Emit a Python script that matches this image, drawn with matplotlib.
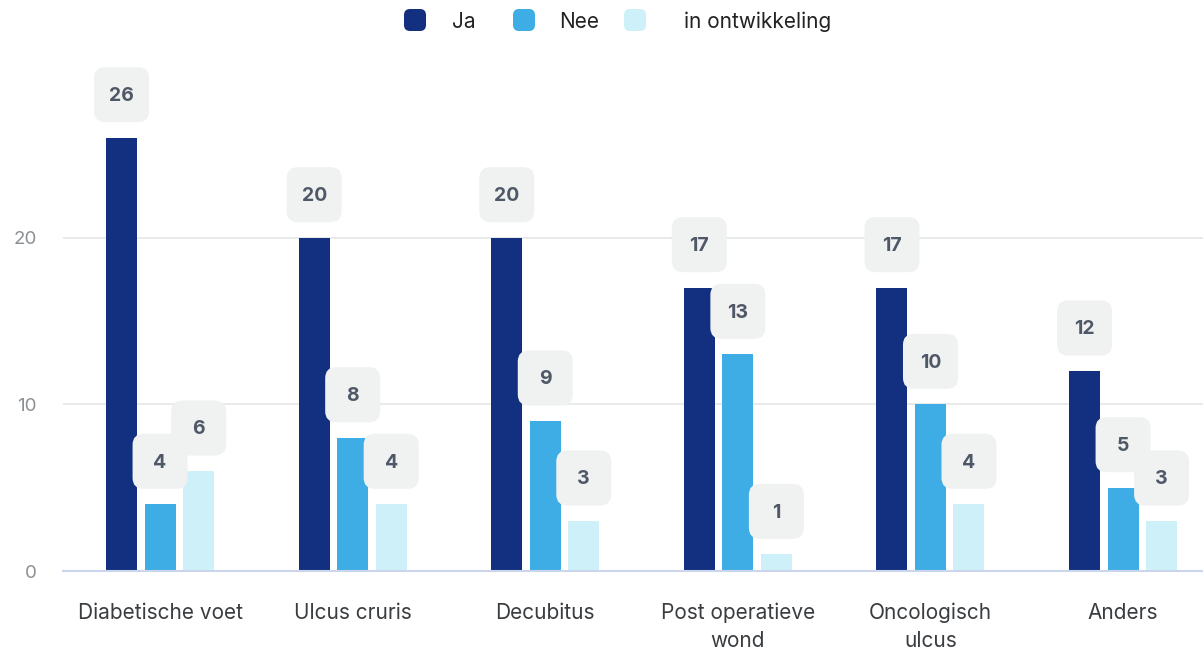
import matplotlib.pyplot as plt
import matplotlib.transforms as mtransforms
from matplotlib.patches import FancyBboxPatch
import numpy as np

plt.rcParams['font.family'] = ['Inter', 'DejaVu Sans']

# data
categories = ["Diabetische voet", "Ulcus cruris", "Decubitus",
              "Post operatieve\nwond", "Oncologisch\nulcus", "Anders"]
series_names = ["Ja", "Nee", "in ontwikkeling"]
ja = [26, 20, 20, 17, 17, 12]
nee = [4, 8, 9, 13, 10, 5]
ontw = [6, 4, 3, 1, 4, 3]
colors = ["#12307f", "#3eade5", "#cef1f9"]

fig = plt.figure(figsize=(12.03, 6.51), dpi=100)
ax = fig.add_axes([63 / 1203, 80 / 651, 1 - 63 / 1203, 500 / 651])

x = np.arange(len(categories))
width = 0.161
offsets = [-0.2, 0.0, 0.2]

for vals, off, col in zip([ja, nee, ontw], offsets, colors):
    ax.bar(x + off, vals, width=width, color=col, zorder=2)

# value labels in rounded grey boxes
for vals, off in zip([ja, nee, ontw], offsets):
    for xi, v in zip(x, vals):
        trans = fig.dpi_scale_trans + mtransforms.ScaledTranslation(xi + off, v, ax.transData)
        box = FancyBboxPatch((-0.275, 0.155), 0.55, 0.55,
                             boxstyle="round,pad=0,rounding_size=0.11",
                             facecolor="#f0f1f1", edgecolor="none",
                             transform=trans, zorder=3, clip_on=False)
        ax.add_patch(box)
        ax.annotate(str(v), (xi + off, v), xytext=(0, 30), textcoords="offset points",
                    ha="center", va="center", fontsize=14, fontweight="bold",
                    color="#4f5866", zorder=4)

ax.set_xlim(-0.504, 5.415)
ax.set_ylim(0, 30)
ax.set_yticks([0, 10, 20])
ax.set_xticks(x)
ax.set_xticklabels(categories, fontsize=15, color="#3a3d40", linespacing=1.5)
ax.tick_params(axis="x", length=0, pad=23)
ax.tick_params(axis="y", length=0, pad=19, labelsize=13.5, labelcolor="#8a8f94")

ax.grid(axis="y", color="#e4e6e8", linewidth=1.2, zorder=0)
for s in ["top", "right", "left"]:
    ax.spines[s].set_visible(False)
ax.spines["bottom"].set_color("#cbd5ec")
ax.spines["bottom"].set_linewidth(1.5)

# legend drawn by hand (rounded markers)
marker_x = [404, 513, 624]
text_x = [452, 559, 684]
for mx, tx, name, col in zip(marker_x, text_x, series_names, colors):
    fig.patches.append(FancyBboxPatch((mx / 100, (651 - 31) / 100), 0.22, 0.22,
                                      boxstyle="round,pad=0,rounding_size=0.06",
                                      facecolor=col, edgecolor="none",
                                      transform=fig.dpi_scale_trans, figure=fig))
    fig.text(tx / 1203, 1 - 22 / 651, name, ha="left", va="center",
             fontsize=15, color="#222222")

fig.savefig("out.png", dpi=100)
